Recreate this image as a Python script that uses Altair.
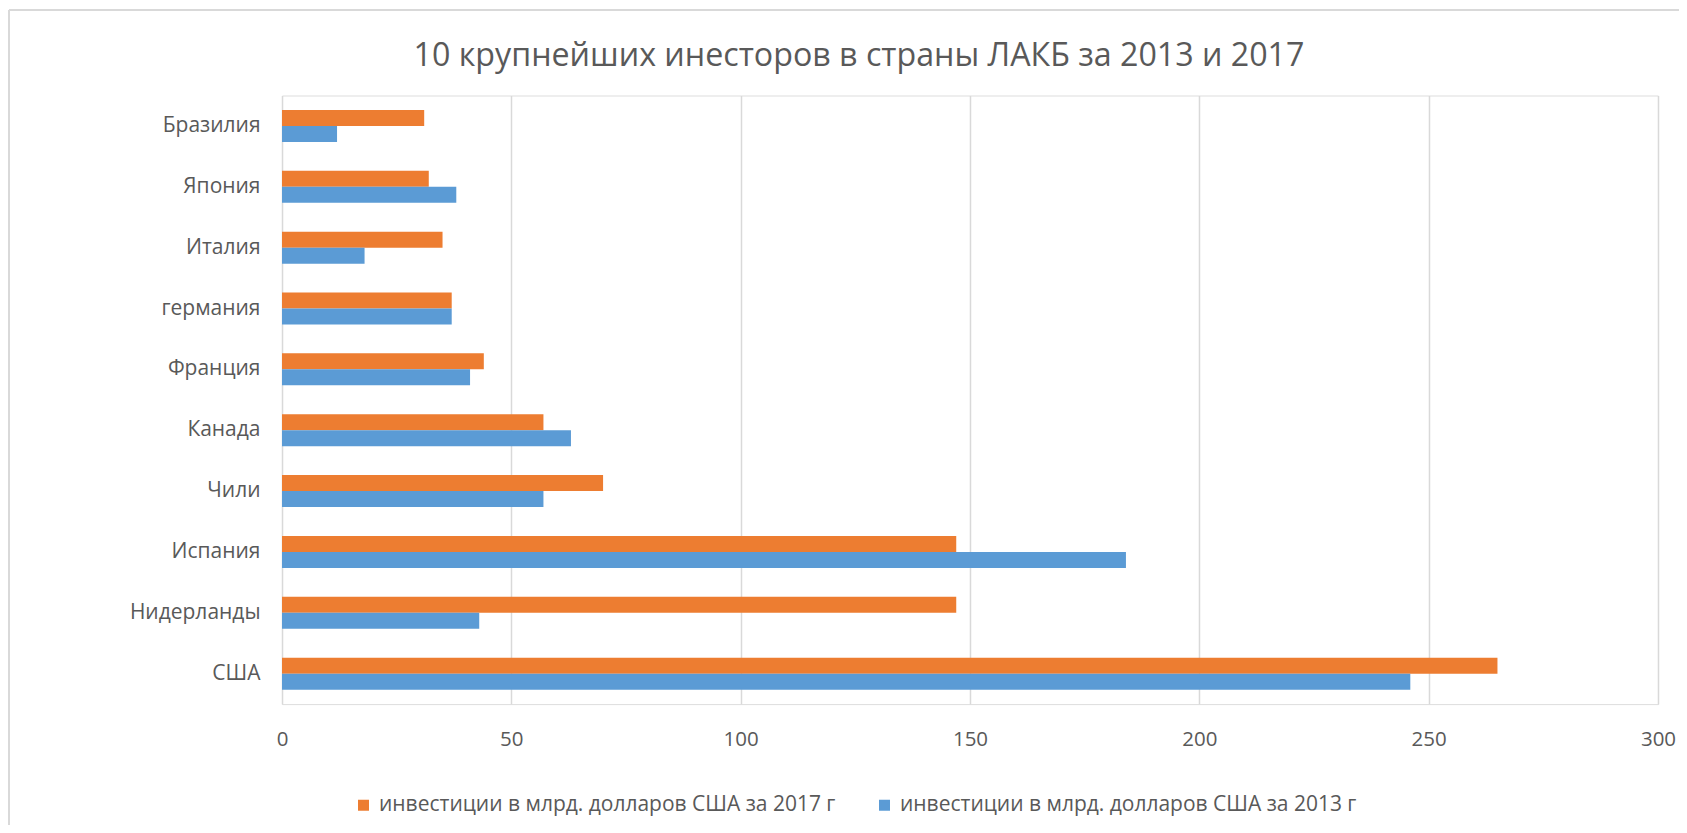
import altair as alt
import pandas as pd

countries = ["Бразилия", "Япония", "Италия", "германия", "Франция",
             "Канада", "Чили", "Испания", "Нидерланды", "США"]
inv_2017 = [31, 32, 35, 37, 44, 57, 70, 147, 147, 265]
inv_2013 = [12, 38, 18, 37, 41, 63, 57, 184, 43, 246]
series = ["инвестиции в млрд. долларов США за 2017 г",
          "инвестиции в млрд. долларов США за 2013 г"]
colors = ["#ED7D31", "#5B9BD5"]
x_ticks = [0, 50, 100, 150, 200, 250, 300]
title_text = "10 крупнейших инесторов в страны ЛАКБ за 2013 и 2017"

rows = []
for c, a, b in zip(countries, inv_2017, inv_2013):
    rows.append({"country": c, "series": series[0], "value": a})
    rows.append({"country": c, "series": series[1], "value": b})
df = pd.DataFrame(rows)

FONT = "Open Sans"
TXT = "#595959"

bars = alt.Chart(df).mark_bar().encode(
    y=alt.Y("country:N", sort=countries,
            scale=alt.Scale(paddingInner=0.474, paddingOuter=0.237),
            axis=alt.Axis(title=None, domain=False, ticks=False,
                          labelFont=FONT, labelFontSize=21, labelColor=TXT,
                          labelPadding=22, grid=False)),
    yOffset=alt.YOffset("series:N", sort=series,
                        scale=alt.Scale(paddingInner=0, paddingOuter=0)),
    x=alt.X("value:Q", scale=alt.Scale(domain=[0, 300], nice=False),
            axis=alt.Axis(title=None, values=x_ticks, domain=False, ticks=False,
                          labelFont=FONT, labelFontSize=20.5, labelColor=TXT,
                          labelFlush=False, labelPadding=25,
                          gridColor="#D9D9D9", gridWidth=1.5)),
    color=alt.Color("series:N", sort=series,
                    scale=alt.Scale(domain=series, range=colors),
                    legend=alt.Legend(title=None, orient="none", legendX=71, legendY=699,
                                      direction="horizontal", columns=2,
                                      symbolType="square", symbolSize=121,
                                      symbolStrokeWidth=0, labelOffset=5,
                                      labelFont=FONT, labelFontSize=21, labelColor=TXT,
                                      labelLimit=800, columnPadding=38)),
)

title_df = pd.DataFrame({"t": [title_text]})
title_mark = alt.Chart(title_df).mark_text(
    font=FONT, fontSize=32.2, color=TXT, align="center", baseline="alphabetic"
).encode(text="t:N", x=alt.value(577), y=alt.value(-29))

border_top = alt.Chart(pd.DataFrame({"k": [0]})).mark_rule(
    color="#D9D9D9", strokeWidth=2).encode(
    x=alt.value(-273), x2=alt.value(1420), y=alt.value(-85.5))
border_left = alt.Chart(pd.DataFrame({"k": [0]})).mark_rule(
    color="#D9D9D9", strokeWidth=2).encode(
    x=alt.value(-273), y=alt.value(-85.5), y2=alt.value(760))

chart = alt.layer(border_top, border_left, bars, title_mark).properties(
    width=1376, height=608.6,
    padding={"left": 274, "top": 87.5, "right": 21, "bottom": 121},
    autosize=alt.AutoSizeParams(type="none"),
).configure_view(strokeWidth=0).configure(background="white")

chart.save("out.html", embed_options={"renderer": "svg", "actions": False})
